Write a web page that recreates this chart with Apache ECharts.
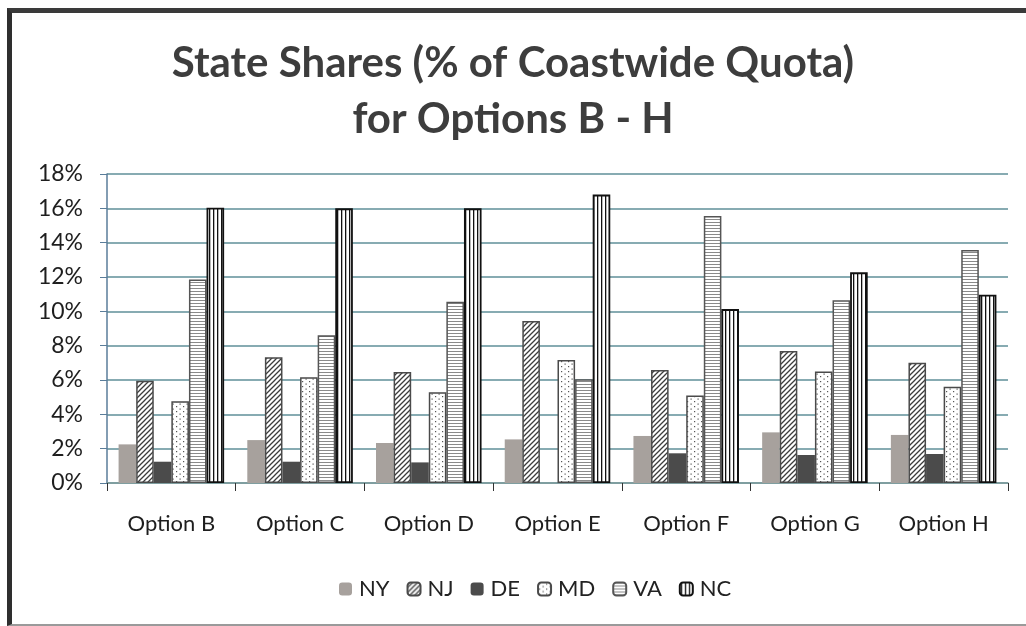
<!DOCTYPE html>
<html>
<head>
<meta charset="utf-8">
<script src="https://cdn.jsdelivr.net/npm/echarts@6/dist/echarts.min.js"></script>
<style>
    html, body { margin: 0; padding: 0; background: #fff; }
    #chart { position: absolute; left: 0; top: 0; width: 1026px; height: 626px; }
    #frame {
        position: absolute;
        left: 7px; top: 8px;
        width: 1030px; height: 611px;
        border-top: 5px solid #3a3a3a;
        border-left: 5px solid #2e2e2e;
        border-bottom: 2px solid #9a9a9a;
        pointer-events: none;
        z-index: 2;
    }
</style>
</head>
<body>
<div id="chart"></div>
<div id="frame"></div>
<script>
var categories = ['Option B', 'Option C', 'Option D', 'Option E', 'Option F', 'Option G', 'Option H'];
var states = ['NY', 'NJ', 'DE', 'MD', 'VA', 'NC'];

// % of coastwide quota
var nyData = [2.25, 2.50, 2.33, 2.54, 2.74, 2.95, 2.80];
var njData = [5.96, 7.32, 6.46, 9.43, 6.58, 7.69, 7.00];
var deData = [1.24, 1.24, 1.20, 0, 1.73, 1.63, 1.69];
var mdData = [4.76, 6.16, 5.28, 7.16, 5.09, 6.50, 5.61];
var vaData = [11.86, 8.60, 10.56, 6.04, 15.55, 10.64, 13.57];
var ncData = [16.03, 16.00, 16.00, 16.80, 10.13, 12.27, 10.97];

var yTicks = [0, 2, 4, 6, 8, 10, 12, 14, 16, 18];

function makePattern(w, h, draw) {
    var c = document.createElement('canvas');
    c.width = w;
    c.height = h;
    var ctx = c.getContext('2d');
    ctx.fillStyle = '#ffffff';
    ctx.fillRect(0, 0, w, h);
    draw(ctx);
    return { image: c, repeat: 'repeat' };
}

// diagonal hatch ////
var njFill = makePattern(5, 5, function (ctx) {
    ctx.strokeStyle = '#3c3c3c';
    ctx.lineWidth = 1.3;
    ctx.beginPath();
    ctx.moveTo(-1, 6); ctx.lineTo(6, -1);
    ctx.moveTo(-1, 1); ctx.lineTo(1, -1);
    ctx.moveTo(4, 6); ctx.lineTo(6, 4);
    ctx.stroke();
});
// small dots
var mdFill = makePattern(7, 5, function (ctx) {
    ctx.fillStyle = '#555';
    ctx.fillRect(1, 1, 1.2, 1.2);
    ctx.fillRect(4.5, 3.5, 1.2, 1.2);
});
// horizontal lines
var vaFill = makePattern(4, 3, function (ctx) {
    ctx.fillStyle = '#8a8a8a';
    ctx.fillRect(0, 0, 4, 1);
});
// vertical lines
var ncFill = makePattern(4, 4, function (ctx) {
    ctx.fillStyle = '#111';
    ctx.fillRect(1, 0, 1.3, 4);
});

var seriesData = [nyData, njData, deData, mdData, vaData, ncData];
var styles = [
    { color: '#a7a19d', borderWidth: 0 },
    { color: njFill, borderColor: '#4a4a4a', borderWidth: 1.5 },
    { color: '#4b4b4b', borderWidth: 0 },
    { color: mdFill, borderColor: '#4a4a4a', borderWidth: 1.5 },
    { color: vaFill, borderColor: '#555', borderWidth: 1.5 },
    { color: ncFill, borderColor: '#111', borderWidth: 1.8 }
];

var chart = echarts.init(document.getElementById('chart'));

var series = states.map(function (name, i) {
    return {
        name: name,
        type: 'bar',
        data: seriesData[i],
        barGap: '0%',
        barCategoryGap: '18%',
        itemStyle: styles[i],
        emphasis: { disabled: true }
    };
});

var option = {
    animation: false,
    backgroundColor: '#ffffff',
    title: {
        text: 'State Shares (% of Coastwide Quota)\nfor Options B - H',
        left: 'center',
        top: 30,
        textStyle: {
            fontFamily: 'Lato',
            fontWeight: 'bold',
            fontSize: 42,
            lineHeight: 56,
            color: '#3d3d3d'
        }
    },
    legend: {
        data: states,
        bottom: 21,
        left: 334,
        itemWidth: 13,
        itemHeight: 13,
        itemGap: 17,
        textStyle: { fontFamily: 'Lato', fontSize: 22, color: '#222', padding: [0, 0, 0, 2] }
    },
    grid: {
        left: 107,
        right: 18,
        top: 174,
        bottom: 143
    },
    xAxis: {
        type: 'category',
        data: categories,
        axisLine: { lineStyle: { color: '#7e9a9a', width: 1.5 } },
        axisTick: { show: true, length: 8, lineStyle: { color: '#333' } },
        axisLabel: { fontFamily: 'Lato', fontSize: 22, color: '#1e1e1e', margin: 30 }
    },
    yAxis: {
        type: 'value',
        min: yTicks[0],
        max: yTicks[yTicks.length - 1],
        interval: 2,
        axisLine: { show: true, lineStyle: { color: '#5a7d9a', width: 1.5 } },
        axisTick: { show: true, length: 7, lineStyle: { color: '#5a7d9a' } },
        splitLine: { lineStyle: { color: '#5f8f98', width: 1.5 } },
        axisLabel: {
            fontFamily: 'Lato',
            fontSize: 23,
            color: '#1e1e1e',
            margin: 24,
            formatter: function (v) { return v + '%'; }
        }
    },
    series: series
};

chart.setOption(option);
</script>
</body>
</html>
